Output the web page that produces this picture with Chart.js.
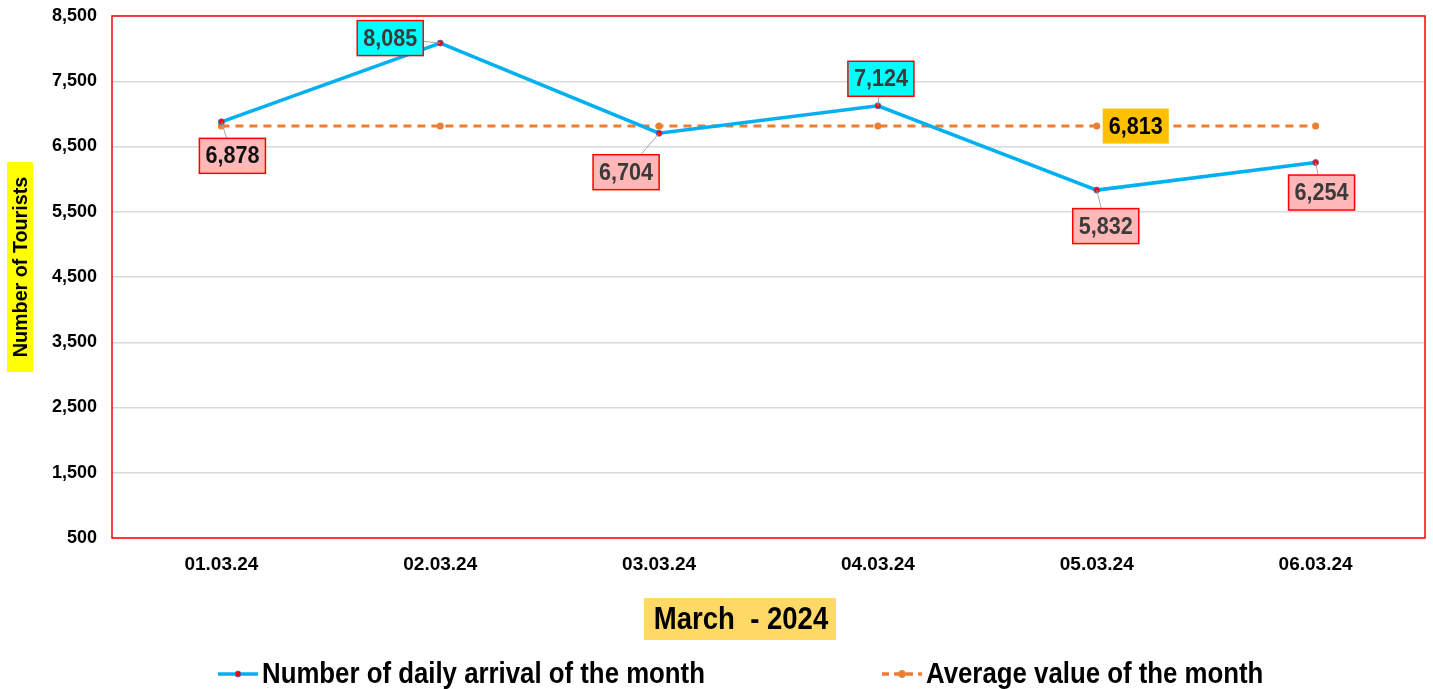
<!DOCTYPE html>
<html>
<head>
<meta charset="utf-8">
<script src="https://cdn.jsdelivr.net/npm/chart.js@4.4.1/dist/chart.umd.min.js"></script>
<style>
  html, body { margin: 0; padding: 0; background: #fff; }
  #wrap { width: 1433px; height: 689px; }
</style>
</head>
<body>
<div id="wrap"><canvas id="chart" width="1433" height="689"></canvas></div>
<script>
// chart data
const days = ['01.03.24', '02.03.24', '03.03.24', '04.03.24', '05.03.24', '06.03.24'];
const arrivals = [6878, 8085, 6704, 7124, 5832, 6254];
const average = [6813, 6813, 6813, 6813, 6813, 6813];
const yTicks = [500, 1500, 2500, 3500, 4500, 5500, 6500, 7500, 8500];

const seriesNames = ['Number of daily arrival of the month', 'Average value of the month'];
const xTitle = 'March  - 2024';
const yTitle = 'Number of Tourists';

// label placement (box centre offset from the point, px)
const arrivalLabelOffsets = [[11, 34], [-50, -5], [-33, 39], [3, -27], [9, 36], [6, 30]];
const averageLabelIndex = 4;
const averageLabelOffset = [39, 0];

const SANS = '"Liberation Sans", Arial, sans-serif';

const fmt = v => v.toLocaleString('en-US');

// text squeezed horizontally to mimic a narrow face
function narrowText(ctx, text, x, y, size, sx, align) {
    ctx.save();
    ctx.font = 'bold ' + size + 'px ' + SANS;
    ctx.textAlign = align || 'center';
    ctx.textBaseline = 'middle';
    ctx.translate(x, y);
    ctx.scale(sx, 1);
    ctx.fillText(text, 0, 0);
    ctx.restore();
}

function narrowWidth(ctx, text, size, sx) {
    ctx.save();
    ctx.font = 'bold ' + size + 'px ' + SANS;
    const w = ctx.measureText(text).width * sx;
    ctx.restore();
    return w;
}

function drawBox(ctx, cx, cy, text, fill, stroke, color) {
    const size = 24, sx = 0.9;
    const w = narrowWidth(ctx, text, size, sx) + 12;
    const h = 35;
    ctx.fillStyle = fill;
    ctx.fillRect(cx - w / 2, cy - h / 2, w, h);
    if (stroke) {
        ctx.strokeStyle = stroke;
        ctx.lineWidth = 1.5;
        ctx.strokeRect(cx - w / 2, cy - h / 2, w, h);
    }
    ctx.fillStyle = color;
    narrowText(ctx, text, cx, cy + 1, size, sx);
}

const decorations = {
    id: 'decorations',
    beforeDatasetsDraw(chart) {
        const { ctx, chartArea: a } = chart;
        ctx.save();
        ctx.strokeStyle = '#ff0000';
        ctx.lineWidth = 1.5;
        ctx.strokeRect(a.left, a.top, a.right - a.left, a.bottom - a.top);
        ctx.restore();
    },
    afterDatasetsDraw(chart) {
        const { ctx } = chart;
        ctx.save();

        // arrival labels with leader lines
        const pts = chart.getDatasetMeta(0).data;
        pts.forEach((p, i) => {
            const [dx, dy] = arrivalLabelOffsets[i];
            ctx.strokeStyle = '#a6a6a6';
            ctx.lineWidth = 1;
            ctx.beginPath();
            ctx.moveTo(p.x, p.y);
            ctx.lineTo(p.x + dx, p.y + dy);
            ctx.stroke();
        });
        pts.forEach((p, i) => {
            const [dx, dy] = arrivalLabelOffsets[i];
            const high = arrivals[i] > average[i] + 200;
            drawBox(ctx, p.x + dx, p.y + dy, fmt(arrivals[i]),
                high ? '#00ffff' : '#ffb7b7', '#ff0000', i === 0 ? '#111' : '#3a3a3a');
        });

        // average label
        const ap = chart.getDatasetMeta(1).data[averageLabelIndex];
        drawBox(ctx, ap.x + averageLabelOffset[0], ap.y + averageLabelOffset[1],
            fmt(average[averageLabelIndex]), '#ffc000', null, '#000000');

        // y title
        ctx.save();
        ctx.translate(20, 267);
        ctx.rotate(-Math.PI / 2);
        ctx.fillStyle = '#ffff00';
        ctx.fillRect(-105, -13, 210, 26);
        ctx.fillStyle = '#000';
        narrowText(ctx, yTitle, 0, 1, 21, 0.94);
        ctx.restore();

        // x title
        ctx.fillStyle = '#ffd966';
        ctx.fillRect(644, 598, 192, 42);
        ctx.fillStyle = '#000';
        narrowText(ctx, xTitle, 741, 620, 32, 0.86);

        // legend
        const legend = [
            { x: 218, color: '#00b0f0', dash: [], mFill: '#ff0000', mStroke: '#4472c4', r: 3 },
            { x: 882, color: '#ed7d31', dash: [7, 5], mFill: '#ed7d31', mStroke: '#ed7d31', r: 3.5 }
        ];
        legend.forEach((l, i) => {
            const y = 674;
            ctx.strokeStyle = l.color;
            ctx.lineWidth = 3.5;
            ctx.setLineDash(l.dash);
            ctx.beginPath();
            ctx.moveTo(l.x, y);
            ctx.lineTo(l.x + 40, y);
            ctx.stroke();
            ctx.setLineDash([]);
            ctx.beginPath();
            ctx.arc(l.x + 20, y, l.r, 0, Math.PI * 2);
            ctx.fillStyle = l.mFill;
            ctx.fill();
            ctx.strokeStyle = l.mStroke;
            ctx.lineWidth = 1;
            ctx.stroke();
            ctx.fillStyle = '#000';
            narrowText(ctx, seriesNames[i], l.x + 44, y + 1, 30, 0.86, 'left');
        });

        ctx.restore();
    }
};

new Chart(document.getElementById('chart'), {
    type: 'line',
    data: {
        labels: days,
        datasets: [
            {
                label: seriesNames[0],
                data: arrivals,
                borderColor: '#00b0f0',
                borderWidth: 3.5,
                pointRadius: 3,
                pointBackgroundColor: '#ff0000',
                pointBorderColor: '#4472c4',
                pointBorderWidth: 1,
                tension: 0,
                order: 0
            },
            {
                label: seriesNames[1],
                data: average,
                borderColor: '#ed7d31',
                borderWidth: 3,
                borderDash: [8, 6],
                pointRadius: 3.5,
                pointBorderWidth: 0,
                pointBackgroundColor: '#ed7d31',
                pointBorderColor: '#ed7d31',
                tension: 0,
                order: 1
            }
        ]
    },
    options: {
        responsive: false,
        animation: false,
        layout: { padding: { top: 16, right: 8, left: 0, bottom: 0 } },
        plugins: {
            legend: { display: false },
            tooltip: { enabled: false }
        },
        scales: {
            x: {
                offset: true,
                grid: { display: false, drawTicks: false },
                border: { display: false },
                ticks: {
                    color: '#000',
                    font: { family: SANS, size: 19, weight: 'bold' },
                    padding: 15
                },
                afterFit(scale) { scale.height = 151; }
            },
            y: {
                min: 500,
                max: 8500,
                afterBuildTicks(scale) { scale.ticks = yTicks.map(v => ({ value: v })); },
                grid: { color: '#d9d9d9', lineWidth: 1.5, drawTicks: false },
                border: { display: false },
                ticks: {
                    color: '#000',
                    font: { family: SANS, size: 18, weight: 'bold' },
                    padding: 15,
                    callback: v => fmt(v)
                },
                afterFit(scale) {
                    scale.width = 112;
                    scale.paddingTop = 0;
                    scale.paddingBottom = 0;
                }
            }
        }
    },
    plugins: [decorations]
});
</script>
</body>
</html>
